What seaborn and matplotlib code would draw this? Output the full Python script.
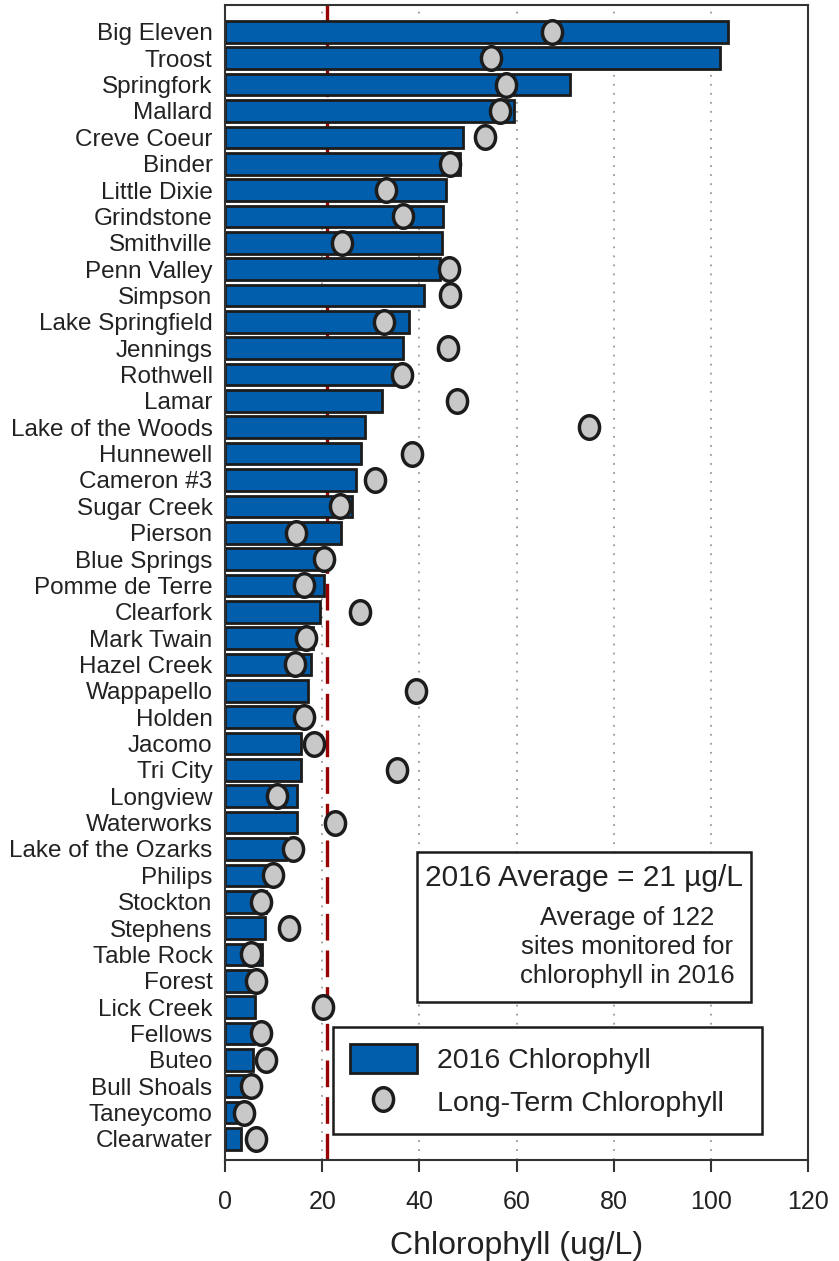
import matplotlib
matplotlib.use("Agg")
import matplotlib.pyplot as plt
import numpy as np
import pandas as pd
import seaborn as sns
from matplotlib.markers import MarkerStyle
from matplotlib.transforms import Affine2D
from matplotlib.patches import Patch, Rectangle
from matplotlib.lines import Line2D

# Lakes, ordered by 2016 chlorophyll (highest first)
lakes = ["Big Eleven", "Troost", "Springfork", "Mallard", "Creve Coeur", "Binder",
         "Little Dixie", "Grindstone", "Smithville", "Penn Valley", "Simpson",
         "Lake Springfield", "Jennings", "Rothwell", "Lamar", "Lake of the Woods",
         "Hunnewell", "Cameron #3", "Sugar Creek", "Pierson", "Blue Springs",
         "Pomme de Terre", "Clearfork", "Mark Twain", "Hazel Creek", "Wappapello",
         "Holden", "Jacomo", "Tri City", "Longview", "Waterworks",
         "Lake of the Ozarks", "Philips", "Stockton", "Stephens", "Table Rock",
         "Forest", "Lick Creek", "Fellows", "Buteo", "Bull Shoals", "Taneycomo",
         "Clearwater"]

# 2016 chlorophyll (ug/L)
chl_2016 = [103.5, 101.8, 71.1, 59.5, 48.9, 48.3, 45.5, 44.8, 44.6, 44.3, 40.9,
            37.9, 36.6, 35.5, 32.3, 28.8, 27.9, 27.0, 26.2, 23.8, 20.4,
            20.3, 19.6, 18.2, 17.7, 17.0, 16.5, 15.7, 15.7, 14.9, 14.9,
            12.6, 9.0, 8.5, 8.2, 7.7, 7.0, 6.1, 6.0, 5.8, 4.5, 3.5, 3.3]

# Long-term chlorophyll (ug/L)
chl_longterm = [67.4, 54.8, 57.9, 56.7, 53.5, 46.4, 33.1, 36.7, 24.1, 46.2, 46.4,
                32.7, 45.8, 36.5, 47.7, 74.9, 38.4, 30.8, 23.6, 14.6, 20.3,
                16.2, 27.8, 16.7, 14.4, 39.3, 16.2, 18.4, 35.4, 10.6, 22.7,
                13.9, 9.9, 7.5, 13.2, 5.3, 6.3, 20.1, 7.5, 8.4, 5.3, 4.0, 6.3]

year = 2016
avg_2016 = 21
n_sites = 122
x_ticks = [0, 20, 40, 60, 80, 100, 120]

BLUE = "#005EAD"
GREY = "#C8C8C8"
EDGE = "#1c1c1c"
RED = "#990000"
TEXT = "#222222"

sns.set_theme(style="ticks")
plt.rcParams["font.family"] = ["Liberation Sans", "DejaVu Sans"]
plt.rcParams["text.color"] = TEXT
plt.rcParams["axes.labelcolor"] = TEXT
plt.rcParams["xtick.color"] = TEXT
plt.rcParams["ytick.color"] = TEXT

df = pd.DataFrame({"lake": lakes, "y2016": chl_2016, "longterm": chl_longterm})

fig = plt.figure(figsize=(8.39, 12.61), dpi=100)
ax = fig.add_axes([0.2682, 0.0801, 0.6949, 0.9159])

# dotted reference grid
for v in x_ticks[1:-1]:
    ax.axvline(v, color="#9a9a9a", ls=(0, (1, 4)), lw=1.3, zorder=0)

# 2016 network average
ax.axvline(avg_2016, color=RED, lw=2.4, ls=(0, (8, 3)), zorder=1)

sns.barplot(data=df, x="y2016", y="lake", orient="h", color=BLUE,
            saturation=1, edgecolor=EDGE, linewidth=2.0, width=0.82,
            errorbar=None, ax=ax, zorder=2)

# slightly tall oval marker
oval = MarkerStyle("o", transform=Affine2D().scale(1.0, 1.17))
sns.stripplot(data=df, x="longterm", y="lake", orient="h", jitter=False,
              marker=oval, size=14.5, color=GREY, edgecolor=EDGE,
              linewidth=2.5, ax=ax, zorder=3)

ax.set_xlim(0, 120)
ax.set_ylim(len(lakes) - 0.2, -1.02)
ax.set_xticks(x_ticks)
ax.set_xlabel("Chlorophyll (ug/L)", fontsize=23, labelpad=12)
ax.set_ylabel("")
ax.tick_params(axis="x", bottom=True, length=8.6, width=1.5, direction="out",
               pad=13, labelsize=18, color="#333333")
ax.tick_params(axis="y", left=False, length=0, pad=9, labelsize=17.5)
for s in ax.spines.values():
    s.set_visible(True)
    s.set_color("#333333")
    s.set_linewidth(1.5)

# average annotation box
ax.add_patch(Rectangle((0.329, 0.1368), 0.573, 0.1299, transform=ax.transAxes,
                       facecolor="white", edgecolor=EDGE, lw=1.8, zorder=4))
ax.text(0.616, 0.2442, f"{year} Average = {avg_2016} \u00b5g/L",
        transform=ax.transAxes, ha="center", va="center", fontsize=21.5, zorder=5)
ax.text(0.6895, 0.1845,
        f"Average of {n_sites}\nsites monitored for\nchlorophyll in {year}",
        transform=ax.transAxes, ha="center", va="center", fontsize=18.5,
        linespacing=1.28, zorder=5)

handles = [
    Patch(facecolor=BLUE, edgecolor=EDGE, lw=2.0),
    Line2D([], [], ls="", marker=oval, markersize=14.5, markerfacecolor=GREY,
           markeredgecolor=EDGE, markeredgewidth=2.5),
]
leg = ax.legend(handles, [f"{year} Chlorophyll", "Long-Term Chlorophyll"],
                loc="upper left", bbox_to_anchor=(0.185, 0.0173, 0.736, 0.098),
                mode="expand", borderaxespad=0, fontsize=20.5, frameon=True,
                fancybox=False, edgecolor=EDGE, framealpha=1,
                handlelength=2.35, handleheight=1.19, handletextpad=0.7,
                borderpad=0.6, labelspacing=0.45)
leg.get_frame().set_linewidth(1.8)

fig.savefig("out.png", dpi=100)
